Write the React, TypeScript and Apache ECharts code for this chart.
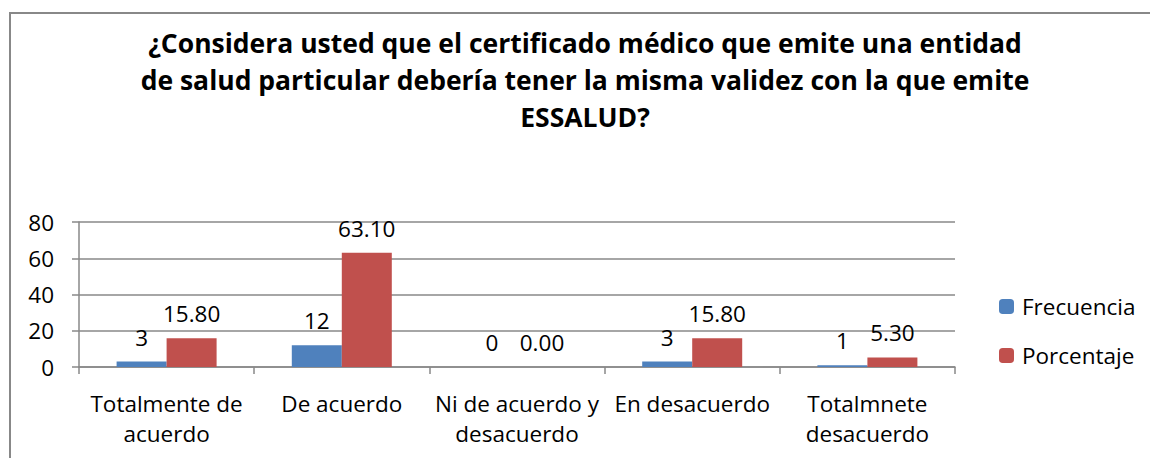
import React, { useEffect, useRef } from "react";
import * as echarts from "echarts";

const titleText =
  "¿Considera usted que el certificado médico que emite una entidad\nde salud particular debería tener la misma validez con la que emite\nESSALUD?";
const categories = [
  "Totalmente de\nacuerdo",
  "De acuerdo",
  "Ni de acuerdo y\ndesacuerdo",
  "En desacuerdo",
  "Totalmnete\ndesacuerdo",
];
const frecuencia = [3, 12, 0, 3, 1];
const porcentaje = [15.8, 63.1, 0, 15.8, 5.3];
const seriesNames = ["Frecuencia", "Porcentaje"];

const FONT = "Open Sans";
const FS = 22.5;

export default function App() {
  const ref = useRef<HTMLDivElement>(null);
  useEffect(() => {
    if (!ref.current) return;
    const chart = echarts.init(ref.current, null, { renderer: "svg" });
    const labelStyle = {
      show: true,
      position: "top" as const,
      distance: 13,
      color: "#000",
      fontSize: FS,
      fontFamily: FONT,
    };
    chart.setOption({
      animation: false,
      backgroundColor: "#fff",
      textStyle: { fontFamily: FONT },
      graphic: [
        {
          type: "rect",
          shape: { x: 10, y: 13, width: 1200, height: 500 },
          style: { fill: "none", stroke: "#888", lineWidth: 2 },
          silent: true,
        },
      ],
      title: {
        text: titleText,
        left: 580,
        textAlign: "center",
        top: 19,
        textStyle: {
          fontFamily: FONT,
          fontWeight: "bold",
          fontSize: 26.5,
          lineHeight: 37,
          color: "#000",
        },
      },
      legend: {
        orient: "vertical",
        left: 994,
        top: 290,
        itemWidth: 15,
        itemHeight: 15,
        itemGap: 26,
        textStyle: { fontFamily: FONT, fontSize: FS, color: "#000", padding: [0, 0, 0, 3] },
        data: seriesNames,
      },
      grid: { left: 79, right: 195, top: 222, bottom: 91 },
      xAxis: {
        type: "category",
        data: categories,
        axisLine: { show: true, lineStyle: { color: "#888", width: 1.5 } },
        axisTick: { show: true, length: 7, lineStyle: { color: "#888", width: 1.5 } },
        axisLabel: {
          color: "#000",
          fontFamily: FONT,
          fontSize: FS,
          lineHeight: 30,
          margin: 21,
          interval: 0,
        },
      },
      yAxis: {
        type: "value",
        min: 0,
        max: 80,
        interval: 20,
        axisLine: { show: true, lineStyle: { color: "#888", width: 1.5 } },
        axisTick: { show: true, inside: false, length: 7, lineStyle: { color: "#888", width: 1.5 } },
        splitLine: { show: true, lineStyle: { color: "#888", width: 1.5 } },
        axisLabel: { color: "#000", fontFamily: FONT, fontSize: FS, margin: 25 },
      },
      series: [
        {
          name: seriesNames[0],
          type: "bar",
          data: frecuencia,
          barWidth: 50,
          barGap: "0%",
          itemStyle: { color: "#4F81BD" },
          label: { ...labelStyle },
        },
        {
          name: seriesNames[1],
          type: "bar",
          data: porcentaje,
          barWidth: 50,
          barGap: "0%",
          itemStyle: { color: "#C0504D" },
          label: { ...labelStyle, formatter: (p: any) => Number(p.value).toFixed(2) },
        },
      ],
    });
    return () => chart.dispose();
  }, []);
  return (
    <div
      ref={ref}
      style={{ position: "absolute", left: 0, top: 0, width: 1150, height: 458 }}
    />
  );
}
